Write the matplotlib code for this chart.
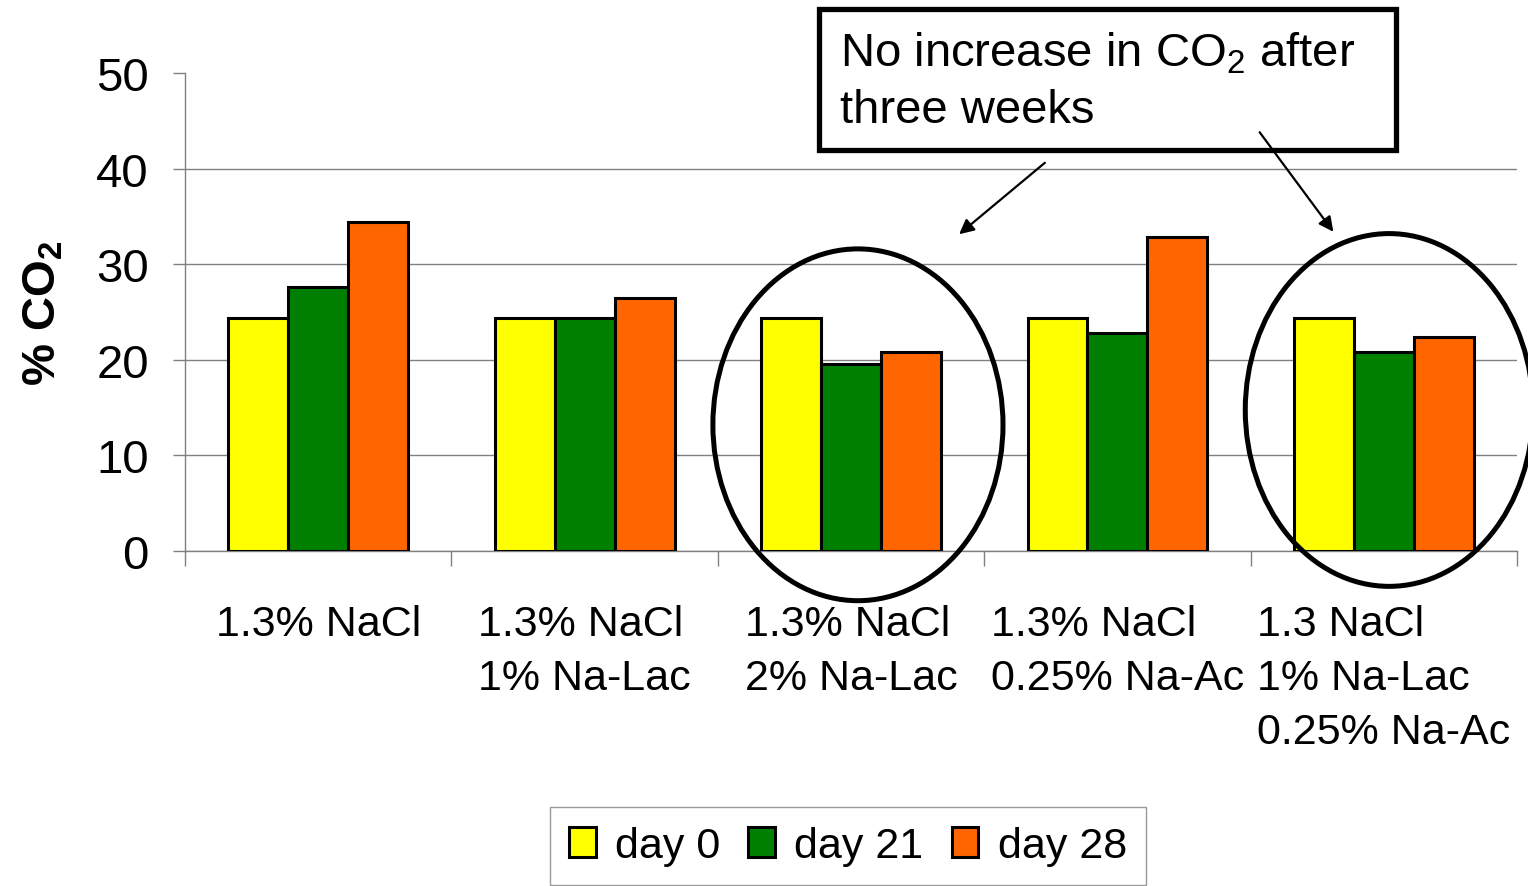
import matplotlib
matplotlib.use("Agg")
import matplotlib.pyplot as plt
from matplotlib.patches import Ellipse, Rectangle, FancyArrowPatch
import numpy as np

plt.rcParams["font.family"] = ["Liberation Sans", "DejaVu Sans"]
plt.rcParams["mathtext.fontset"] = "custom"
plt.rcParams["mathtext.rm"] = "Liberation Sans"
plt.rcParams["mathtext.bf"] = "Liberation Sans:bold"

categories = [
    "1.3% NaCl",
    "1.3% NaCl\n1% Na-Lac",
    "1.3% NaCl\n2% Na-Lac",
    "1.3% NaCl\n0.25% Na-Ac",
    "1.3 NaCl\n1% Na-Lac\n0.25% Na-Ac",
]
series_names = ["day 0", "day 21", "day 28"]
day0 = [24.4, 24.4, 24.4, 24.4, 24.4]
day21 = [27.6, 24.4, 19.6, 22.8, 20.8]
day28 = [34.4, 26.5, 20.8, 32.8, 22.4]
colors = ["#FFFF00", "#008000", "#FF6600"]

fig = plt.figure(figsize=(15.28, 8.87), dpi=100)
ax = fig.add_axes([0.1211, 0.3777, 0.8717, 0.5389])

x = np.arange(len(categories))
w = 0.225
for i, (vals, name, c) in enumerate(zip([day0, day21, day28], series_names, colors)):
    ax.bar(x + (i - 1) * w, vals, w, color=c, edgecolor="black", linewidth=2.2,
           label=name, zorder=3)

ax.set_xlim(-0.5, len(categories) - 0.5)
ax.set_ylim(0, 50)
ax.set_yticks(np.arange(0, 51, 10))
ax.tick_params(axis="y", labelsize=34, length=9, width=1, color="#808080", pad=17)
ax.yaxis.grid(True, color="#808080", linewidth=1)
ax.get_ygridlines()[-1].set_visible(False)
ax.set_axisbelow(True)

ax.set_xticks(np.arange(-0.5, len(categories), 1.0))
ax.set_xticklabels([])
ax.tick_params(axis="x", which="major", length=11, width=1, color="#808080")
ax.set_xticks(x, minor=True)
ax.set_xticklabels(categories, minor=True, fontsize=31, linespacing=1.45,
                   multialignment="left")
ax.tick_params(axis="x", which="minor", length=0, pad=38)

for s in ["top", "right"]:
    ax.spines[s].set_visible(False)
for s in ["left", "bottom"]:
    ax.spines[s].set_color("#808080")
    ax.spines[s].set_linewidth(1)

ax.set_ylabel("% CO$_\\mathbf{2}$", fontsize=34, fontweight="bold", labelpad=22)

# circles around the groups without increase
ax.add_patch(Ellipse((2.026, 13.2), 1.089, 36.8, fill=False, edgecolor="black",
                     linewidth=3.6, clip_on=False, zorder=5))
ax.add_patch(Ellipse((4.02, 14.75), 1.08, 36.9, fill=False, edgecolor="black",
                     linewidth=3.6, clip_on=False, zorder=5))

# note box
fig.add_artist(Rectangle((819 / 1528, 1 - 151 / 887), 577 / 1528, 141 / 887,
                         transform=fig.transFigure, fill=False, edgecolor="black",
                         linewidth=3.8))
fig.text(840 / 1528, 1 - 67 / 887, "No increase in CO$_\\mathrm{2}$ after",
         fontsize=34, va="baseline", ha="left")
fig.text(840 / 1528, 1 - 123 / 887, "three weeks",
         fontsize=34, va="baseline", ha="left")

for a, b in [((1047, 162), (957, 237)), ((1258, 131), (1335, 235))]:
    fig.add_artist(FancyArrowPatch((a[0] / 1528, 1 - a[1] / 887),
                                   (b[0] / 1528, 1 - b[1] / 887),
                                   transform=fig.transFigure, arrowstyle="-|>",
                                   mutation_scale=22, linewidth=1.6, color="black"))

leg = fig.legend(loc="center", bbox_to_anchor=(848 / 1528, 1 - 847 / 887), ncol=3,
                 fontsize=31, frameon=True, fancybox=False, handlelength=0.62,
                 handleheight=0.72, handletextpad=0.45, columnspacing=0.65,
                 borderpad=0.45)
leg.get_frame().set_edgecolor("#808080")
leg.get_frame().set_linewidth(1)

fig.savefig("out.png", dpi=100)
